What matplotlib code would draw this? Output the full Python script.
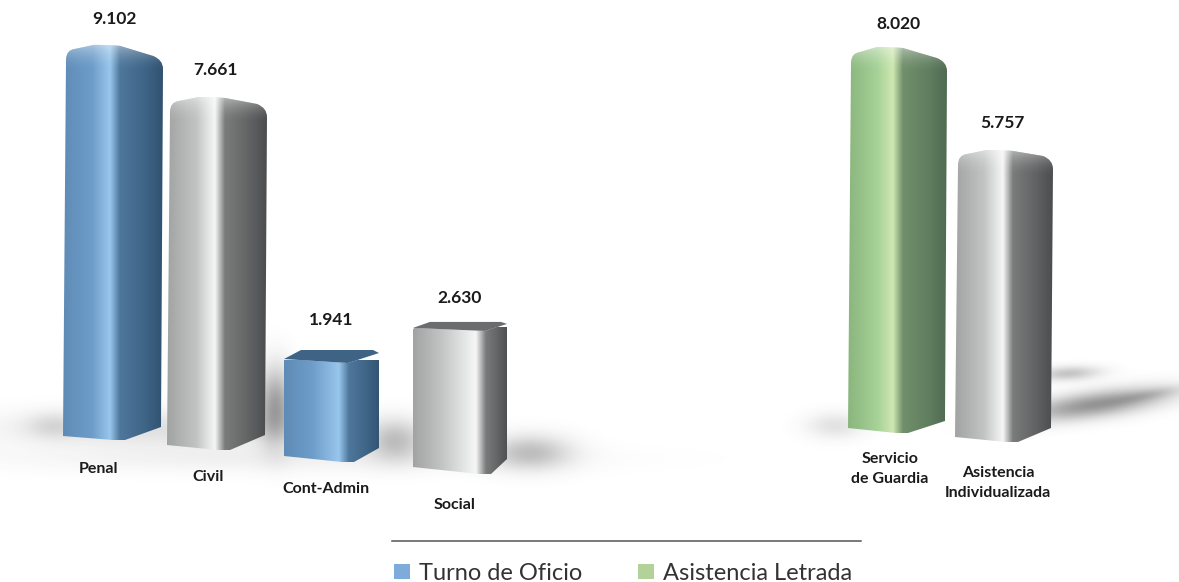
import numpy as np
import matplotlib
matplotlib.use("Agg")
import matplotlib.pyplot as plt
from matplotlib.colors import LinearSegmentedColormap
from matplotlib.patches import PathPatch, Rectangle
from matplotlib.path import Path

# values
categories = ["Penal", "Civil", "Cont-Admin", "Social", "Servicio\nde Guardia", "Asistencia\nIndividualizada"]
value_labels = ["9.102", "7.661", "1.941", "2.630", "8.020", "5.757"]
values = [9102, 7661, 1941, 2630, 8020, 5757]
legend_names = ["Turno de Oficio", "Asistencia Letrada"]

# bars are in perspective so each one has its own pixels per unit
px_per_unit = [0.0433, 0.04595, 0.051, 0.0544, 0.048, 0.05055]

# left, ridge, right x and the y of the bottom at those three
bar_x = [(63, 119, 161), (167, 224, 265), (284, 348, 379), (413, 485, 507), (848, 902, 945), (955, 1012, 1051)]
bar_bottom = [(436, 439, 427), (445, 449, 435), (456, 461, 448), (467, 473, 459), (428, 432, 421), (437, 441, 428)]
top_drop = [(5, 15), (5, 11), (-3, -9), (-2, -6), (6, 15), (5, 10)]
lid_rise = [0, 0, 12, 8, 0, 0]
bar_style = ["blue", "silver", "blue", "silver", "green", "silver"]
label_pos = [(98, 469), (208, 477), (326, 489), (455, 505), (890, 469), (998, 483)]
value_pos = [(114, 19), (216, 70), (331, 320), (460, 298), (898, 24), (1002, 123)]

stops = {
    "blue": ["#5f8cb6", "#6e9dca", "#98c6ec", "#4f779c", "#3f6587", "#305271"],
    "silver": ["#a2a4a4", "#c2c4c4", "#f6f6f6", "#7a7b7b", "#626364", "#4c4d4e"],
    "green": ["#8ab67e", "#a6d197", "#cfe8b0", "#708f6b", "#617f60", "#4f6b53"],
}
top_colors = {"blue": "#3f6384", "silver": "#6a6c6e", "green": "#4c6850"}

# x, y, sx, sy, angle, strength of the soft shadows on the floor
shadows = [
    (170, 428, 115, 13, 0, 0.16),
    (52, 425, 18, 9, 0, 0.13),
    (275, 405, 12, 26, 0, 0.50),
    (395, 440, 20, 14, 0, 0.32),
    (530, 452, 28, 12, 0, 0.32),
    (270, 458, 190, 10, 0, 0.07),
    (835, 425, 20, 9, 0, 0.15),
    (1068, 373, 22, 5, -3, 0.30),
    (1095, 404, 50, 9, -8, 0.55),
    (1150, 394, 24, 4, -10, 0.15),
]

fig = plt.figure(figsize=(11.79, 5.82), dpi=100)
ax = fig.add_axes([0, 0, 1, 1])
ax.set_xlim(0, 1179)
ax.set_ylim(582, 0)
ax.axis("off")

# floor shadows
xx, yy = np.meshgrid(np.arange(1179), np.arange(582))
alpha = np.zeros(xx.shape)
for sx0, sy0, sx, sy, ang, strength in shadows:
    t = np.deg2rad(ang)
    u = (xx - sx0) * np.cos(t) + (yy - sy0) * np.sin(t)
    v = -(xx - sx0) * np.sin(t) + (yy - sy0) * np.cos(t)
    alpha += strength * np.exp(-0.5 * ((u / sx) ** 2 + (v / sy) ** 2))
shadow_img = np.zeros(xx.shape + (4,))
shadow_img[..., :3] = 0.25
shadow_img[..., 3] = np.clip(alpha, 0, 0.8)
ax.imshow(shadow_img, extent=(0, 1179, 582, 0), aspect="auto", zorder=1)

for i, val in enumerate(values):
    xl, xm, xr = bar_x[i]
    bl, bm, br = bar_bottom[i]
    tm = bm - val * px_per_unit[i]
    tl = tm + top_drop[i][0]
    tr = tm + top_drop[i][1]
    flat_top = lid_rise[i] > 0
    width = xr - xl

    if flat_top:
        verts = [
            (xl, tl + 2), (xl, tl), (xl + 2, tl), (xm, tm + 1), (xr - 1, tr), (xr, tr), (xr, tr + 2),
            (xr, br), (xm + 6, bm + 1), (xm - 6, bm + 1), (xl, bl), (xl, tl + 2),
        ]
        codes = [Path.MOVETO, Path.CURVE3, Path.CURVE3, Path.LINETO, Path.LINETO, Path.CURVE3, Path.CURVE3,
                 Path.LINETO, Path.LINETO, Path.LINETO, Path.LINETO, Path.CLOSEPOLY]
    else:
        # tall bars lean a bit outwards at the top
        lean = 3
        px = xm - 9
        verts = [
            (xl + lean, tl + 10), (xl + lean, tl), (xl + lean + 9, tl - 1),
            (px - 16, tm), (px, tm), (px + 10, tm + 1),
            (xr - 8, tr - 4), (xr + 2, tr), (xr + 2, tr + 9),
            (xr, br), (xm + 6, bm + 1), (xm - 6, bm + 1), (xl, bl), (xl + lean, tl + 10),
        ]
        codes = [Path.MOVETO, Path.CURVE3, Path.CURVE3, Path.LINETO, Path.CURVE3, Path.CURVE3,
                 Path.LINETO, Path.CURVE3, Path.CURVE3, Path.LINETO, Path.LINETO, Path.LINETO,
                 Path.LINETO, Path.CLOSEPOLY]
    outline = PathPatch(Path(verts, codes), fc="none", ec="none", transform=ax.transData)
    ax.add_patch(outline)

    # sideways shading, brightest just before the ridge then dark quickly
    right_edge = xr + 2
    span = right_edge - xl
    pos = lambda px_x: (px_x - xl) / span
    cols = stops[bar_style[i]]
    cmap = LinearSegmentedColormap.from_list(
        bar_style[i],
        [(0, cols[0]), (pos(xl + width * 0.3), cols[1]), (pos(xm - 9), cols[2]),
         (pos(xm + 1), cols[3]), (pos(xm + (xr - xm) * 0.6), cols[4]), (1, cols[5])],
    )
    grad = np.linspace(0, 1, 256).reshape(1, -1)
    top = tm - 2
    bottom = max(bl, bm, br) + 2
    im = ax.imshow(grad, cmap=cmap, extent=(xl, right_edge, bottom, top), aspect="auto", zorder=2)
    im.set_clip_path(outline)

    if flat_top:
        # the lid is visible on the two short bars
        back = tm - lid_rise[i]
        lid = PathPatch(
            Path([(xl, tl), (xl + 17, back), (xr - 6, back), (xr, tr), (xm, tm + 1), (xl, tl)]),
            fc=top_colors[bar_style[i]], ec="none", zorder=3,
        )
        ax.add_patch(lid)
    else:
        # soft white glow along the rounded top
        glow = np.zeros((40, 1, 4))
        glow[..., :3] = 1
        glow[:, 0, 3] = np.linspace(0.7, 0, 40) ** 2
        gl = ax.imshow(glow, extent=(xl, right_edge, top + 30, top), aspect="auto", zorder=3)
        gl.set_clip_path(outline)

    ax.text(*value_pos[i], value_labels[i], ha="center", va="center", fontsize=12.5, fontweight="bold",
            family="Lato", color="#1a1a1a", zorder=5)
    ax.text(*label_pos[i], categories[i], ha="center", va="center", fontsize=11.5, fontweight="bold",
            family="Lato", color="#1a1a1a", linespacing=1.55, zorder=5)

ax.set_xlim(0, 1179)
ax.set_ylim(582, 0)

# legend under the rule
ax.plot([392, 861], [541, 541], color="#555555", lw=1.1, zorder=4)
ax.add_patch(Rectangle((394, 564), 16, 15, fc="#7dabda", ec="none", zorder=4))
ax.add_patch(Rectangle((638, 564), 16, 15, fc="#b3d29a", ec="none", zorder=4))
ax.text(419, 580, legend_names[0], fontsize=17, family="Lato", color="#333333", va="baseline", zorder=5)
ax.text(663, 580, legend_names[1], fontsize=17, family="Lato", color="#333333", va="baseline", zorder=5)

fig.savefig("out.png", dpi=100)
